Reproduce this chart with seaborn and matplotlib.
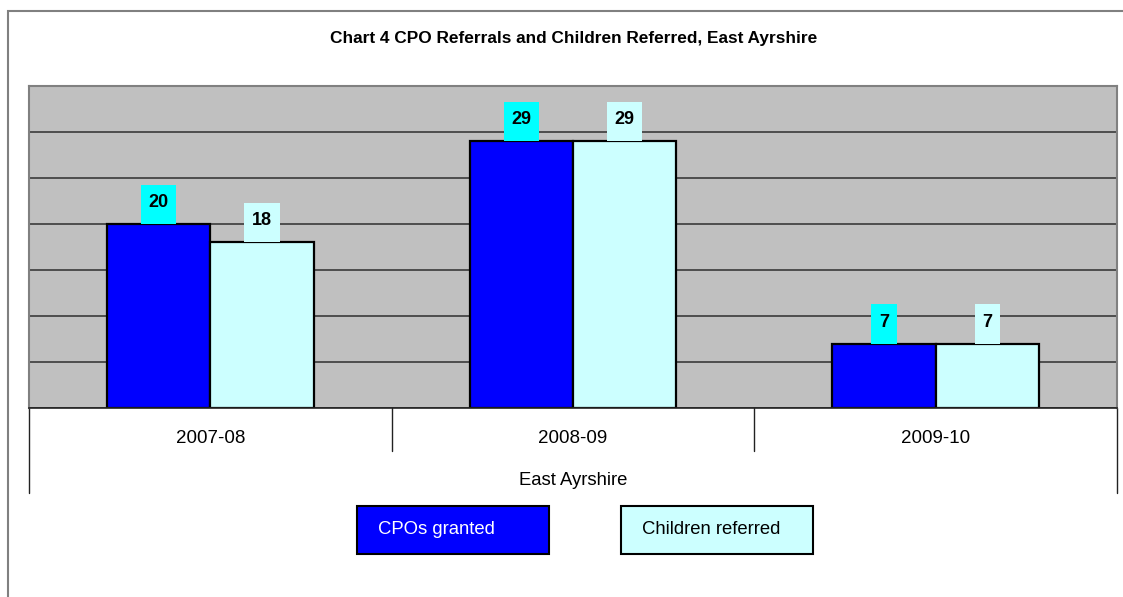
import matplotlib.pyplot as plt
import pandas as pd
import seaborn as sns
from matplotlib.patches import Rectangle
from matplotlib.path import Path

TITLE = "Chart 4 CPO Referrals and Children Referred, East Ayrshire"
AREA = "East Ayrshire"
YEARS = ["2007-08", "2008-09", "2009-10"]
SERIES = ["CPOs granted", "Children referred"]
CPOS_GRANTED = [20, 29, 7]
CHILDREN_REFERRED = [18, 29, 7]

BAR_COLORS = ["#0000FF", "#CCFFFF"]
LABEL_BG = ["#00FFFF", "#CCFFFF"]
LEGEND_TEXT = ["white", "black"]

df = pd.DataFrame({
    "year": YEARS * 2,
    "series": [SERIES[0]] * len(YEARS) + [SERIES[1]] * len(YEARS),
    "value": CPOS_GRANTED + CHILDREN_REFERRED,
})

sns.set_theme(style="white")
plt.rcParams["font.family"] = ["Liberation Sans", "DejaVu Sans"]
plt.rcParams["text.color"] = "black"
plt.rcParams["axes.labelcolor"] = "black"
plt.rcParams["xtick.color"] = "black"

W, H = 1123, 597
fig = plt.figure(figsize=(W / 100, H / 100), dpi=100)
ax = fig.add_axes([29 / W, (H - 408) / H, (1117 - 29) / W, (408 - 86) / H])

sns.barplot(data=df, x="year", y="value", hue="series", palette=BAR_COLORS,
            width=0.57, edgecolor="black", linewidth=1.6, saturation=1,
            legend=False, ax=ax)

ax.set_facecolor("#C0C0C0")
ax.set_xlim(-0.5, 2.5)
ax.set_ylim(0, 35)
ax.set_yticks(range(0, 36, 5))
ax.yaxis.grid(True, color="#3a3a3a", linewidth=1.2)
ax.set_axisbelow(True)
ax.tick_params(axis="y", left=False, labelleft=False)
ax.tick_params(axis="x", length=0, pad=16, labelsize=13.5)
ax.set_ylabel(None)
ax.set_xlabel(AREA, fontsize=13.3, labelpad=17.5)

for side in ["top", "left", "right"]:
    ax.spines[side].set_color("#808080")
    ax.spines[side].set_linewidth(1.5)
ax.spines["bottom"].set_color("#222222")
ax.spines["bottom"].set_linewidth(1.2)


def label_box(x0, y0, width, height, mutation_size):
    # uneven padding: more room under the number than above it
    px, top, bottom = 0.42 * mutation_size, 0.52 * mutation_size, 0.72 * mutation_size
    x1, y1 = x0 + width + px, y0 + height + top
    x0, y0 = x0 - px, y0 - bottom
    return Path([(x0, y0), (x1, y0), (x1, y1), (x0, y1), (x0, y0)], closed=True)


LABEL_SIZE = 13
for i, cont in enumerate(ax.containers):
    ax.bar_label(cont, fontsize=LABEL_SIZE, fontweight="bold", padding=0.72 * LABEL_SIZE,
                 bbox=dict(boxstyle=label_box, fc=LABEL_BG[i], ec="none"))

# category table lines under the axis
xt = ax.get_xaxis_transform()
for x in [0.5, 1.5]:
    ax.plot([x, x], [0, -(451 - 408) / 322], transform=xt, color="#222222",
            lw=1, clip_on=False)
for x in [-0.5, 2.5]:
    ax.plot([x, x], [0, -(493 - 408) / 322], transform=xt, color="#222222",
            lw=1, clip_on=False)

# legend boxes
for i, (name, x0) in enumerate(zip(SERIES, [357, 621])):
    fig.add_artist(Rectangle((x0 / W, (H - 554) / H), 192 / W, 48 / H,
                             transform=fig.transFigure, fc=BAR_COLORS[i],
                             ec="black", lw=1.5))
    fig.text((x0 + 21) / W, (H - 529) / H, name, fontsize=13.3,
             color=LEGEND_TEXT[i], va="center", ha="left")

# outer chart frame
fig.add_artist(Rectangle((8 / W, -0.1), 2, (H - 11) / H + 0.1,
                         transform=fig.transFigure, fill=False,
                         ec="#808080", lw=1.5))

fig.text(574 / W, (H - 38) / H, TITLE, ha="center", va="center",
         fontsize=12.4, fontweight="bold")

fig.savefig("out.png", dpi=100)
